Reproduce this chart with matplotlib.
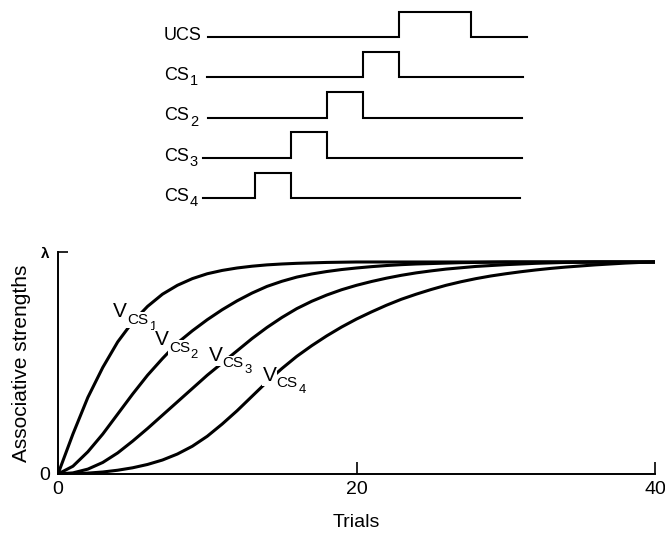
import matplotlib

matplotlib.use("Agg")
import matplotlib.pyplot as plt

plt.rcParams["font.family"] = ["Liberation Sans", "DejaVu Sans"]

# stimulus timing (arbitrary time units, CS4 onset = 0)
stim_names = ["UCS", "CS", "CS", "CS", "CS"]
stim_subs = ["", "1", "2", "3", "4"]
stim_on = [4, 3, 2, 1, 0]
stim_off = [6, 4, 3, 2, 1]
trace_start = [-1.30, -1.33, -1.30, -1.44, -1.44]
trace_end = [7.55, 7.44, 7.42, 7.42, 7.36]

# associative strength curves (fraction of lambda), one value per trial
trials = list(range(41))
v_cs1 = [0, .18, .345, .48, .595, .685, .755, .81, .85, .88, .902, .917, .928, .936, .942, .946, .949, .951, .953, .954,
         .955, .955, .955, .955, .955, .955, .955, .955, .955, .955, .955, .955, .955, .955, .955, .955, .955, .955, .955, .955, .955]
v_cs2 = [0, .035, .10, .18, .27, .36, .445, .52, .59, .645, .695, .74, .78, .815, .845, .868, .887, .901, .912, .921,
         .928, .934, .939, .943, .946, .948, .950, .952, .953, .954, .955, .955, .955, .955, .955, .955, .955, .955, .955, .955, .955]
v_cs3 = [0, .005, .022, .052, .095, .148, .205, .265, .325, .385, .445, .50, .555, .61, .66, .705, .745, .778, .806, .83,
         .85, .867, .882, .895, .906, .915, .923, .929, .935, .939, .943, .946, .949, .951, .953, .954, .955, .955, .955, .955, .955]
v_cs4 = [0, .001, .004, .009, .017, .028, .043, .063, .09, .125, .17, .225, .285, .35, .415, .475, .53, .578, .622, .662,
         .698, .73, .76, .787, .81, .831, .85, .866, .88, .892, .902, .911, .919, .926, .932, .937, .942, .946, .95, .953, .955]
curves = [v_cs1, v_cs2, v_cs3, v_cs4]
curve_subs = ["1", "2", "3", "4"]
label_x = [3.7, 6.5, 10.1, 13.7]
label_y = [0.705, 0.58, 0.51, 0.42]

W, H = 665, 535
fig = plt.figure(figsize=(W / 100, H / 100), dpi=100)


def put_label(ax, x, y, parts, box=False):
    # parts: (text, fontsize, dx_pt, dy_pt) stacked from one baseline anchor
    for text, size, dx, dy in parts:
        kw = {}
        if box:
            kw["bbox"] = dict(facecolor="white", edgecolor="none", pad=0.6)
        ax.annotate(text, (x, y), xytext=(dx, dy), textcoords="offset points",
                    ha="left", va="baseline", fontsize=size, zorder=3, **kw)


# --- timing diagram ---
ax_t = fig.add_axes([150 / W, 1 - 220 / H, 410 / W, 220 / H])
ax_t.set_xlim((150 - 255) / 36, (560 - 255) / 36)
ax_t.set_ylim(-(220 - 37) / 40.25, 37 / 40.25)
ax_t.axis("off")
pulse_h = 0.63
label_left = (164 - 255) / 36
for i, name in enumerate(stim_names):
    base = -i
    xs = [trace_start[i], stim_on[i], stim_on[i], stim_off[i], stim_off[i], trace_end[i]]
    ys = [base, base, base + pulse_h, base + pulse_h, base, base]
    ax_t.plot(xs, ys, color="black", lw=1.5, solid_joinstyle="miter")
    parts = [(name, 13, 0, 0)]
    if stim_subs[i]:
        parts.append((stim_subs[i], 10.5, 18.6, -3.6))
    put_label(ax_t, label_left, base - 3 / 40.25, parts)

# --- learning curves ---
ax = fig.add_axes([58 / W, 1 - 474 / H, 597 / W, 222 / H])
for vals in curves:
    ax.plot(trials, vals, color="black", lw=2.2, zorder=2)
for lx, ly, sub in zip(label_x, label_y, curve_subs):
    put_label(ax, lx, ly, [("V", 15, 0, 0), ("CS", 11, 10, -4.8), (sub, 9.4, 25.8, -9.1)], box=True)

ax.set_xlim(0, 40)
ax.set_ylim(0, 1)
for side in ["top", "right"]:
    ax.spines[side].set_visible(False)
for side in ["left", "bottom"]:
    ax.spines[side].set_linewidth(1.4)
ax.set_xticks([0, 20, 40])
ax.set_xticklabels(["0", "20", "40"])
ax.set_yticks([0, 1])
ax.set_yticklabels(["0", "λ"])
ax.tick_params(axis="x", direction="in", length=9, width=1.2, labelsize=14, pad=5)
ax.tick_params(axis="y", direction="in", length=7, width=1.2, labelsize=14, pad=6)
lam = ax.get_yticklabels()[1]
lam.set_fontweight("bold")
lam.set_fontsize(11)

ax.set_xlabel("Trials", fontsize=14)
ax.xaxis.set_label_coords(0.5, -0.18)
ax.set_ylabel("Associative strengths", fontsize=15)
ax.yaxis.set_label_coords(-0.045, 0.5)

fig.savefig("out.png", dpi=100)
